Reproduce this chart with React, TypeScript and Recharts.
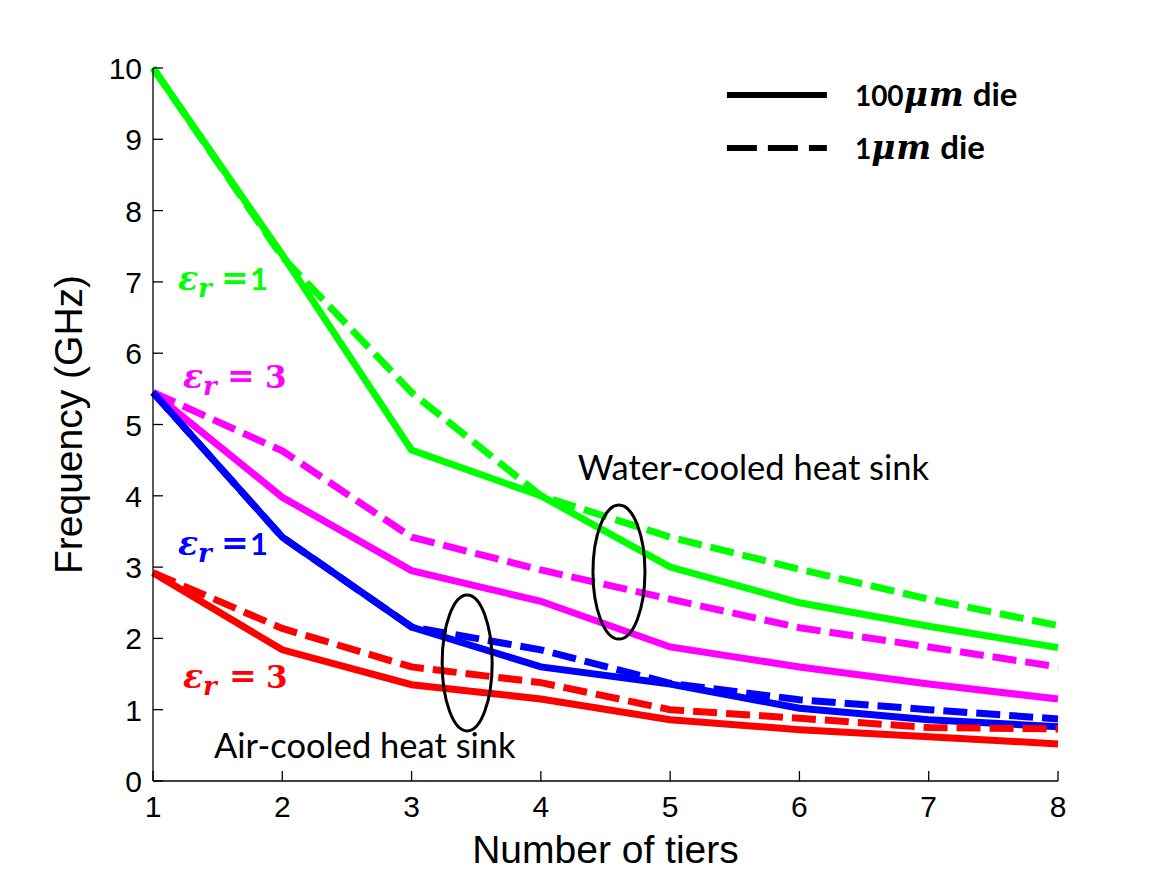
import React from 'react';
import { LineChart, Line, XAxis, YAxis, ReferenceDot } from 'recharts';

document.body.style.margin = '0';

const tiers = [1, 2, 3, 4, 5, 6, 7, 8];
const greenSolid = [10, 7.38, 4.64, 4.0, 3.0, 2.5, 2.17, 1.87];
const greenDashed = [10, 7.35, 5.45, 4.0, 3.42, 2.97, 2.55, 2.18];
const magentaSolid = [5.45, 3.98, 2.95, 2.52, 1.88, 1.6, 1.36, 1.15];
const magentaDashed = [5.45, 4.63, 3.42, 2.96, 2.55, 2.15, 1.88, 1.6];
const blueSolid = [5.45, 3.42, 2.16, 1.6, 1.36, 1.02, 0.86, 0.76];
const blueDashed = [5.45, 3.42, 2.16, 1.84, 1.37, 1.14, 1.0, 0.87];
const redSolid = [2.92, 1.84, 1.35, 1.15, 0.86, 0.72, 0.62, 0.52];
const redDashed = [2.92, 2.14, 1.6, 1.38, 1.0, 0.88, 0.75, 0.73];
const yTicks = [0, 1, 2, 3, 4, 5, 6, 7, 8, 9, 10];

const data = tiers.map((t, i) => ({
  t,
  gs: greenSolid[i],
  gd: greenDashed[i],
  ms: magentaSolid[i],
  md: magentaDashed[i],
  bs: blueSolid[i],
  bd: blueDashed[i],
  rs: redSolid[i],
  rd: redDashed[i],
}));

const GREEN = '#00ff00';
const MAGENTA = '#ff00ff';
const BLUE = '#0000ff';
const RED = '#ff0000';
const DASH = '24 9';
const SW = 7;

const epsLabels = [
  { x: 1.193, y: 6.88, color: GREEN, val: '1', eqDx: 43, valDx: 72, wide: false },
  { x: 1.232, y: 5.51, color: MAGENTA, val: '3', eqDx: 44, valDx: 82, wide: true },
  { x: 1.193, y: 3.17, color: BLUE, val: '1', eqDx: 43, valDx: 72, wide: false },
  { x: 1.232, y: 1.3, color: RED, val: '3', eqDx: 46, valDx: 83, wide: true },
];

const notes = [
  { x: 4.286, y: 4.22, text: 'Water-cooled heat sink' },
  { x: 1.472, y: 0.32, text: 'Air-cooled heat sink' },
];

const ellipses = [
  { x: 3.43, y: 1.655, rx: 25, ry: 68 },
  { x: 4.604, y: 2.93, rx: 26, ry: 67 },
];

const legendAnchor = { x: 5.439, y: 9.62 };
const legendItems = [
  { label: '100', dashed: false },
  { label: '1', dashed: true },
];

const FONT = 'Lato, "Liberation Sans", Arial, sans-serif';
const AXFONT = '"Liberation Sans", Arial, sans-serif';
const SERIF = '"DejaVu Serif", "Liberation Serif", serif';

const YTick = (props: any) => {
  const { x, y, payload } = props;
  const ax = x + 11;
  return (
    <g>
      <line x1={ax} y1={y} x2={ax + 10} y2={y} stroke="#000" strokeWidth={1.3} />
      <text x={x} y={y} dy={11} textAnchor="end" fontSize={30} fontFamily={AXFONT} fill="#000">
        {payload.value}
      </text>
    </g>
  );
};

const XTick = (props: any) => {
  const { x, y, payload } = props;
  const ay = y - 10;
  return (
    <g>
      <line x1={x} y1={ay} x2={x} y2={ay - 10} stroke="#000" strokeWidth={1.3} />
      <text x={x} y={y} dy={26} textAnchor="middle" fontSize={30} fontFamily={AXFONT} fill="#000">
        {payload.value}
      </text>
    </g>
  );
};

export default function App() {
  return (
    <div style={{ width: 1170, height: 877, background: '#fff' }}>
      <LineChart
        width={1170}
        height={877}
        data={data}
        margin={{ top: 68, right: 112, bottom: 0, left: 0 }}
      >
        <XAxis
          dataKey="t"
          type="number"
          domain={[1, 8]}
          ticks={tiers}
          height={96}
          tickSize={0}
          tickMargin={10}
          tick={<XTick />}
          axisLine={{ stroke: '#000', strokeWidth: 1.3 }}
          label={{
            value: 'Number of tiers',
            position: 'insideBottom',
            offset: 14,
            fontSize: 39,
            fontFamily: AXFONT,
            fill: '#000',
          }}
        />
        <YAxis
          type="number"
          domain={[0, 10]}
          ticks={yTicks}
          width={153}
          tickSize={0}
          tickMargin={11}
          tick={<YTick />}
          axisLine={{ stroke: '#000', strokeWidth: 1.3 }}
          label={{
            value: 'Frequency (GHz)',
            angle: -90,
            position: 'insideLeft',
            offset: 68,
            fontSize: 39,
            fontFamily: AXFONT,
            fill: '#000',
            style: { textAnchor: 'middle' },
          }}
        />
        <Line dataKey="gs" stroke={GREEN} strokeWidth={SW} dot={false} isAnimationActive={false} />
        <Line dataKey="gd" stroke={GREEN} strokeWidth={SW} strokeDasharray={DASH} dot={false} isAnimationActive={false} />
        <Line dataKey="ms" stroke={MAGENTA} strokeWidth={SW} dot={false} isAnimationActive={false} />
        <Line dataKey="md" stroke={MAGENTA} strokeWidth={SW} strokeDasharray={DASH} dot={false} isAnimationActive={false} />
        <Line dataKey="bs" stroke={BLUE} strokeWidth={SW} dot={false} isAnimationActive={false} />
        <Line dataKey="bd" stroke={BLUE} strokeWidth={SW} strokeDasharray={DASH} dot={false} isAnimationActive={false} />
        <Line dataKey="rs" stroke={RED} strokeWidth={SW} dot={false} isAnimationActive={false} />
        <Line dataKey="rd" stroke={RED} strokeWidth={SW} strokeDasharray={DASH} dot={false} isAnimationActive={false} />
        {ellipses.map((e, i) => (
          <ReferenceDot
            key={'el' + i}
            x={e.x}
            y={e.y}
            ifOverflow="visible"
            shape={(p: any) => (
              <ellipse cx={p.cx} cy={p.cy} rx={e.rx} ry={e.ry} fill="none" stroke="#000" strokeWidth={3} />
            )}
          />
        ))}
        {notes.map((n, i) => (
          <ReferenceDot
            key={'nt' + i}
            x={n.x}
            y={n.y}
            ifOverflow="visible"
            shape={(p: any) => (
              <text x={p.cx} y={p.cy} fontSize={34.5} fontFamily={FONT} fill="#000">
                {n.text}
              </text>
            )}
          />
        ))}
        {epsLabels.map((l, i) => (
          <ReferenceDot
            key={'ep' + i}
            x={l.x}
            y={l.y}
            ifOverflow="visible"
            shape={(p: any) => (
              <g fill={l.color} fontWeight="bold">
                <text x={p.cx} y={p.cy} fontSize={33} fontFamily={SERIF} fontStyle="italic">ε</text>
                <text x={p.cx + 20} y={p.cy + 7} fontSize={26} fontFamily={SERIF} fontStyle="italic">r</text>
                <text x={p.cx + l.eqDx} y={p.cy - 1} fontSize={33} fontFamily={SERIF}>=</text>
                <text x={p.cx + l.valDx} y={p.cy} fontSize={31} fontFamily={l.wide ? SERIF : FONT}>{l.val}</text>
              </g>
            )}
          />
        ))}
        <ReferenceDot
          x={legendAnchor.x}
          y={legendAnchor.y}
          ifOverflow="visible"
          shape={(p: any) => (
            <g>
              {legendItems.map((it, i) => {
                const ly = p.cy + i * 53;
                return (
                  <g key={i}>
                    <line
                      x1={p.cx}
                      y1={ly}
                      x2={p.cx + 100}
                      y2={ly}
                      stroke="#000"
                      strokeWidth={6}
                      strokeDasharray={it.dashed ? '30 11' : undefined}
                    />
                    <text x={p.cx + 128} y={ly + 11} fontWeight="bold" fill="#000" fontFamily={FONT}>
                      <tspan fontSize={28}>{it.label}</tspan>
                      <tspan fontSize={33} fontFamily={SERIF} fontStyle="italic" letterSpacing={1}>μm</tspan>
                      <tspan fontSize={33}> die</tspan>
                    </text>
                  </g>
                );
              })}
            </g>
          )}
        />
      </LineChart>
    </div>
  );
}
